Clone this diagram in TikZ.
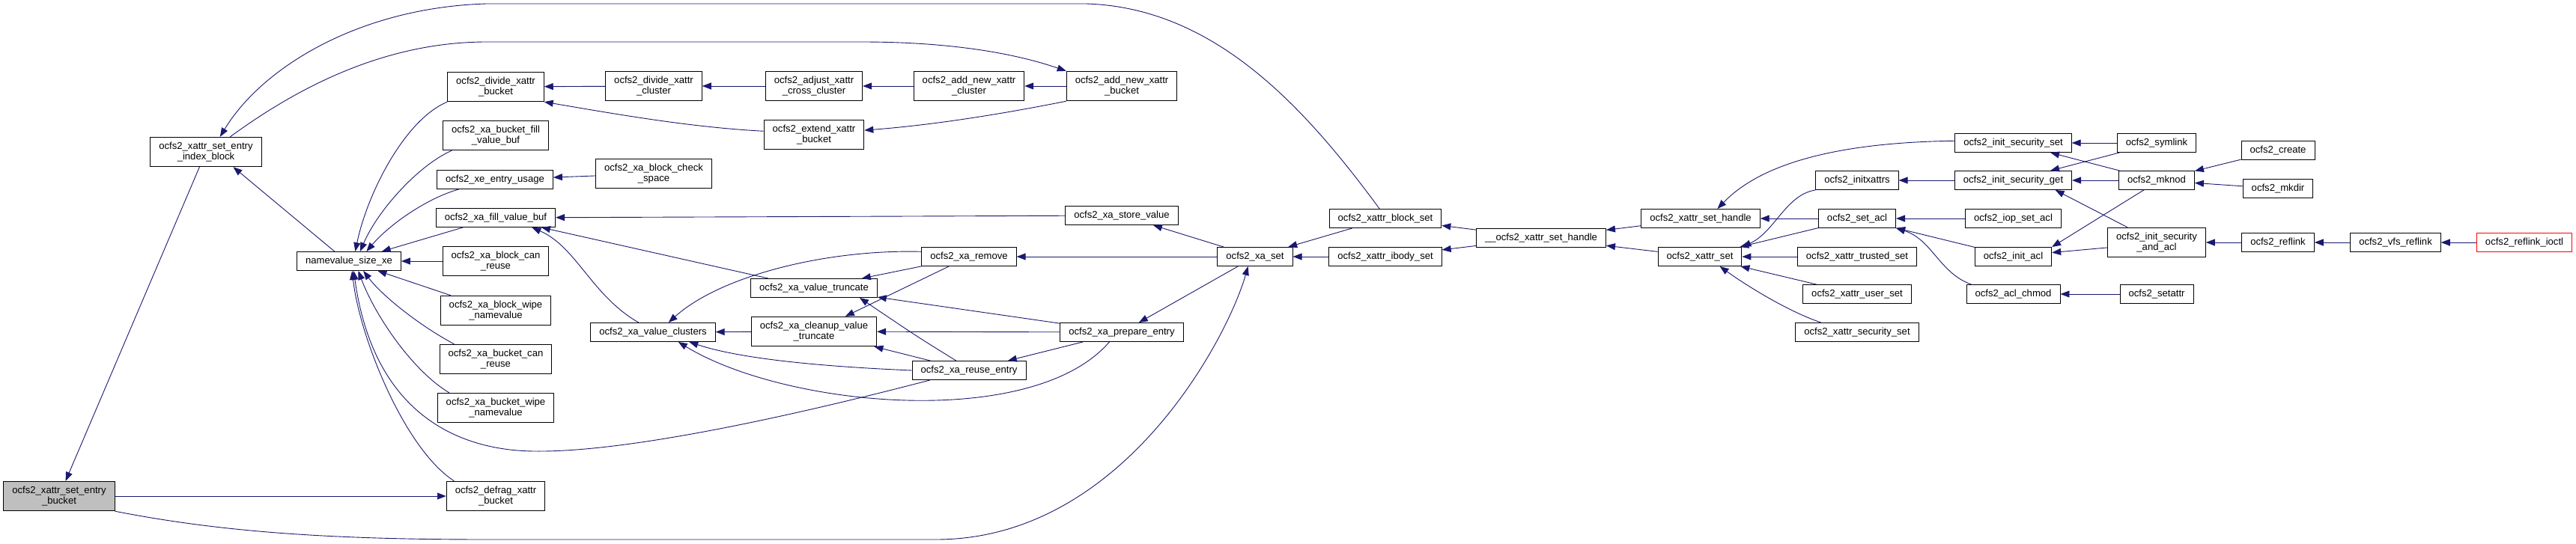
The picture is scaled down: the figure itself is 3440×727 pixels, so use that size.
\documentclass[tikz,border=0pt]{standalone}
\usepackage{fontspec}
\setmainfont{Liberation Sans}
\usetikzlibrary{arrows.meta}
\definecolor{edgeblue}{HTML}{191970}
\definecolor{rootgray}{HTML}{BFBFBF}

\begin{document}
\begin{tikzpicture}[x=1pt, y=-1pt,
    fn/.style={draw=black, line width=0.9pt, inner xsep=11.5pt, inner ysep=2pt,
      minimum height=25pt, align=center, font=\fontsize{13.1}{13.9}\selectfont},
    fnn/.style={fn, minimum height=39.5pt},
    calls/.style={draw=edgeblue, line width=0.9pt, -{Triangle[length=12pt,width=9pt]}}]
    \useasboundingbox (0,0) rectangle (3440,727);

    \node[fnn, fill=rootgray] (entrybucket) at (79,663) {ocfs2\_xattr\_set\_entry\\\_bucket};
    \node[fnn] (indexblock) at (275,203) {ocfs2\_xattr\_set\_entry\\\_index\_block};
    \node[fn] (namevalue) at (466,349) {namevalue\_size\_xe};
    \node[fnn] (dividebucket) at (662,116) {ocfs2\_divide\_xattr\\\_bucket};
    \node[fnn] (bucketfill) at (662,181) {ocfs2\_xa\_bucket\_fill\\\_value\_buf};
    \node[fn] (xeentryusage) at (661,240) {ocfs2\_xe\_entry\_usage};
    \node[fn] (xafillvaluebuf) at (662,291) {ocfs2\_xa\_fill\_value\_buf};
    \node[fnn] (blockcanreuse) at (662,349) {ocfs2\_xa\_block\_can\\\_reuse};
    \node[fnn] (blockwipe) at (662,415) {ocfs2\_xa\_block\_wipe\\\_namevalue};
    \node[fnn] (bucketcanreuse) at (662,480) {ocfs2\_xa\_bucket\_can\\\_reuse};
    \node[fnn] (bucketwipe) at (662,545) {ocfs2\_xa\_bucket\_wipe\\\_namevalue};
    \node[fnn] (defrag) at (662,663) {ocfs2\_defrag\_xattr\\\_bucket};
    \node[fnn] (dividecluster) at (873,115) {ocfs2\_divide\_xattr\\\_cluster};
    \node[fnn] (checkspace) at (873,232) {ocfs2\_xa\_block\_check\\\_space};
    \node[fn] (valueclusters) at (872,444) {ocfs2\_xa\_value\_clusters};
    \node[fnn] (adjustcross) at (1087,115) {ocfs2\_adjust\_xattr\\\_cross\_cluster};
    \node[fnn] (extendbucket) at (1087,180) {ocfs2\_extend\_xattr\\\_bucket};
    \node[fn] (valuetruncate) at (1087,385) {ocfs2\_xa\_value\_truncate};
    \node[fnn] (cleanuptrunc) at (1087,443) {ocfs2\_xa\_cleanup\_value\\\_truncate};
    \node[fnn] (addnewcluster) at (1294,115) {ocfs2\_add\_new\_xattr\\\_cluster};
    \node[fnn] (addnewbucket) at (1498,115) {ocfs2\_add\_new\_xattr\\\_bucket};
    \node[fn] (storevalue) at (1498,288) {ocfs2\_xa\_store\_value};
    \node[fn] (xaremove) at (1294,343) {ocfs2\_xa\_remove};
    \node[fn] (xaset) at (1676,343) {ocfs2\_xa\_set};
    \node[fn] (prepareentry) at (1498,444) {ocfs2\_xa\_prepare\_entry};
    \node[fn] (reuseentry) at (1294,495) {ocfs2\_xa\_reuse\_entry};
    \node[fn] (blockset) at (1850,292) {ocfs2\_xattr\_block\_set};
    \node[fn] (ibodyset) at (1850,343) {ocfs2\_xattr\_ibody\_set};
    \node[fn] (innerhandle) at (2058,318) {\_\_ocfs2\_xattr\_set\_handle};
    \node[fn] (sethandle) at (2271,292) {ocfs2\_xattr\_set\_handle};
    \node[fn] (xattrset) at (2270,343) {ocfs2\_xattr\_set};
    \node[fn] (initsecset) at (2688.5,191) {ocfs2\_init\_security\_set};
    \node[fn] (initxattrs) at (2480,241) {ocfs2\_initxattrs};
    \node[fn] (initsecget) at (2688.5,241) {ocfs2\_init\_security\_get};
    \node[fn] (setacl) at (2480,292) {ocfs2\_set\_acl};
    \node[fn] (iopsetacl) at (2688.5,292) {ocfs2\_iop\_set\_acl};
    \node[fn] (trustedset) at (2480,343) {ocfs2\_xattr\_trusted\_set};
    \node[fn] (initacl) at (2688.5,343) {ocfs2\_init\_acl};
    \node[fn] (userset) at (2480,393) {ocfs2\_xattr\_user\_set};
    \node[fn] (aclchmod) at (2688.5,393) {ocfs2\_acl\_chmod};
    \node[fn] (securityset) at (2480,444) {ocfs2\_xattr\_security\_set};
    \node[fn] (symlink) at (2880,191) {ocfs2\_symlink};
    \node[fn] (create) at (3042,201) {ocfs2\_create};
    \node[fn] (mknod) at (2880,241) {ocfs2\_mknod};
    \node[fn] (mkdir) at (3042,252) {ocfs2\_mkdir};
    \node[fnn] (initsecandacl) at (2880,324) {ocfs2\_init\_security\\\_and\_acl};
    \node[fn] (reflink) at (3042,324) {ocfs2\_reflink};
    \node[fn] (vfsreflink) at (3199,324) {ocfs2\_vfs\_reflink};
    \node[fn, draw=red] (reflinkioctl) at (3371,324) {ocfs2\_reflink\_ioctl};
    \node[fn] (setattr) at (2880,393) {ocfs2\_setattr};

    \draw[calls] (indexblock) -- (entrybucket);
    \draw[calls] (namevalue.146) -- (indexblock.-29);
    \draw[calls] (entrybucket) -- (defrag);
    \draw[calls] (entrybucket.south east) .. controls (300,712) and (450,721) .. (650,721)
        -- (1250,721) .. controls (1500,721) and (1640,450) .. (xaset.234);
    \draw[calls] (blockset.121) .. controls (1740,140) and (1620,10) .. (1450,5)
        -- (650,5) .. controls (480,10) and (350,90) .. (indexblock.47);
    \draw[calls] (indexblock.32) .. controls (380,130) and (500,56) .. (650,56)
        -- (1150,56) .. controls (1300,56) and (1380,80) .. (addnewbucket.north west);

    \draw[calls] (dividebucket.south west) .. controls (540,160) and (490,260) .. (namevalue.57);
    \draw[calls] (bucketfill.199) .. controls (560,220) and (505,280) .. (namevalue.41);
    \draw[calls] (xeentryusage.195) .. controls (570,265) and (520,300) .. (namevalue.29);
    \draw[calls] (xafillvaluebuf) -- (namevalue);
    \draw[calls] (blockcanreuse) -- (namevalue);
    \draw[calls] (blockwipe) -- (namevalue);
    \draw[calls] (bucketcanreuse.160) .. controls (560,435) and (510,395) .. (namevalue.-34);
    \draw[calls] (bucketwipe.162) .. controls (550,495) and (500,420) .. (namevalue.-46);
    \draw[calls] (reuseentry.194) .. controls (1100,545) and (850,605) .. (713,603)
        .. controls (620,602) and (500,560) .. (namevalue.-64);
    \draw[calls] (defrag.160) .. controls (540,600) and (480,450) .. (namevalue.-72);

    \draw[calls] (dividecluster) -- (dividebucket);
    \draw[calls] (extendbucket.176) .. controls (920,170) and (820,152) .. (dividebucket.south east);
    \draw[calls] (adjustcross) -- (dividecluster);
    \draw[calls] (addnewcluster) -- (adjustcross);
    \draw[calls] (addnewbucket) -- (addnewcluster);
    \draw[calls] (addnewbucket.south west) .. controls (1360,148) and (1260,166) .. (extendbucket.5);
    \draw[calls] (checkspace) -- (xeentryusage);

    \draw[calls] (storevalue) -- (xafillvaluebuf);
    \draw[calls] (valuetruncate.168) -- (xafillvaluebuf.-12);
    \draw[calls] (valueclusters.146) .. controls (790,395) and (770,330) .. (xafillvaluebuf.-15);
    \draw[calls] (xaremove.174) .. controls (1100,333) and (960,370) .. (valueclusters.32);
    \draw[calls] (cleanuptrunc) -- (valueclusters);
    \draw[calls] (reuseentry.west) .. controls (1100,490) and (990,480) .. (valueclusters.-15);
    \draw[calls] (prepareentry.218) .. controls (1380,575) and (1050,545) .. (valueclusters.-21);
    \draw[calls] (xaremove) -- (valuetruncate);
    \draw[calls] (xaremove) -- (cleanuptrunc);
    \draw[calls] (prepareentry) -- (valuetruncate);
    \draw[calls] (reuseentry.143) .. controls (1225,450) .. (valuetruncate.-12.6);
    \draw[calls] (prepareentry) -- (cleanuptrunc);
    \draw[calls] (reuseentry) -- (cleanuptrunc);
    \draw[calls] (prepareentry) -- (reuseentry);

    \draw[calls] (xaset) -- (storevalue);
    \draw[calls] (xaset) -- (xaremove);
    \draw[calls] (xaset) -- (prepareentry);
    \draw[calls] (blockset) -- (xaset);
    \draw[calls] (ibodyset) -- (xaset);
    \draw[calls] (innerhandle) -- (blockset);
    \draw[calls] (innerhandle) -- (ibodyset);
    \draw[calls] (sethandle) -- (innerhandle);
    \draw[calls] (xattrset) -- (innerhandle);

    \draw[calls] (initsecset.178) .. controls (2480,190) and (2360,210) .. (sethandle.30);
    \draw[calls] (setacl) -- (sethandle);
    \draw[calls] (initxattrs.south west) .. controls (2385,260) and (2370,310) .. (xattrset.north east);
    \draw[calls] (setacl) -- (xattrset);
    \draw[calls] (trustedset) -- (xattrset);
    \draw[calls] (userset) -- (xattrset);
    \draw[calls] (securityset.165) .. controls (2385,415) and (2330,380) .. (xattrset.-26);
    \draw[calls] (initsecget) -- (initxattrs);
    \draw[calls] (iopsetacl) -- (setacl);
    \draw[calls] (initacl) -- (setacl);
    \draw[calls] (aclchmod.167) .. controls (2590,365) and (2580,320) .. (setacl.south east);

    \draw[calls] (symlink) -- (initsecset);
    \draw[calls] (mknod) -- (initsecset);
    \draw[calls] (symlink) -- (initsecget);
    \draw[calls] (mknod) -- (initsecget);
    \draw[calls] (initsecandacl) -- (initsecget.-13.5);
    \draw[calls] (mknod.217) -- (initacl.north east);
    \draw[calls] (initsecandacl.186) -- (initacl.6);
    \draw[calls] (setattr) -- (aclchmod);
    \draw[calls] (create) -- (mknod);
    \draw[calls] (mkdir) -- (mknod);
    \draw[calls] (reflink) -- (initsecandacl);
    \draw[calls] (vfsreflink) -- (reflink);
    \draw[calls] (reflinkioctl) -- (vfsreflink);
\end{tikzpicture}
\end{document}
